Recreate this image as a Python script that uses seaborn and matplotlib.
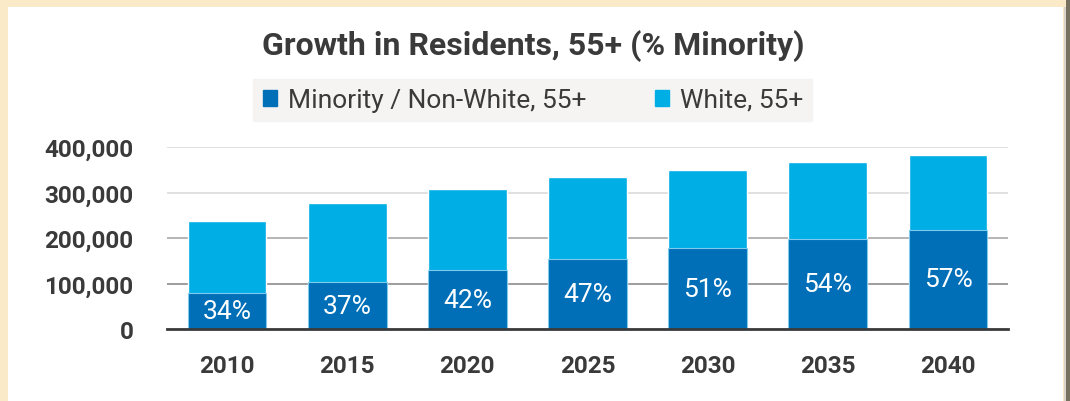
import numpy as np
import pandas as pd
import matplotlib.pyplot as plt
import matplotlib.patches as mpatches
from matplotlib.ticker import FuncFormatter
import seaborn as sns

# Values
years = ["2010", "2015", "2020", "2025", "2030", "2035", "2040"]
total_55 = [237000, 278000, 308000, 333000, 350000, 366000, 382000]
minority_55 = [80000, 103000, 129000, 154000, 178000, 198000, 218000]
pct_minority = [34, 37, 42, 47, 51, 54, 57]

df = pd.DataFrame({"year": years, "total": total_55, "minority": minority_55})

light_blue = "#00AEE6"
dark_blue = "#006FB8"
text_col = "#3A3A3A"
cream = "#FAEAC8"

sns.set_theme(style="white")
plt.rcParams["font.family"] = ["Roboto", "DejaVu Sans"]

fig = plt.figure(figsize=(10.7, 4.02), dpi=100)
fig.patch.set_facecolor(cream)

# white card with a dark edge on the right, like the screenshot frame
fig.patches.append(mpatches.Rectangle((8 / 1070, 0), 1055 / 1070, 1 - 8 / 402,
                                      transform=fig.transFigure, facecolor="white",
                                      edgecolor="none", zorder=-10))
fig.patches.append(mpatches.Rectangle((1064 / 1070, 0), 2 / 1070, 1 - 8 / 402,
                                      transform=fig.transFigure, facecolor="#D8D4CC",
                                      edgecolor="none", zorder=-10))
fig.patches.append(mpatches.Rectangle((1066 / 1070, 0), 4 / 1070, 1,
                                      transform=fig.transFigure, facecolor="#77715F",
                                      edgecolor="none", zorder=-10))

ax = fig.add_axes([167 / 1070, 1 - 330 / 402, 841 / 1070, 182 / 402])
ax.set_facecolor("none")

sns.barplot(data=df, x="year", y="total", color=light_blue, width=0.655,
            saturation=1, ax=ax, zorder=3)
sns.barplot(data=df, x="year", y="minority", color=dark_blue, width=0.655,
            saturation=1, ax=ax, zorder=4, edgecolor="#7FCBEE", linewidth=0.8)

for i, (m, p) in enumerate(zip(minority_55, pct_minority)):
    ax.text(i, m / 2, f"{p}%", ha="center", va="center", color="white",
            fontsize=19, zorder=5)

ax.set_ylim(0, 400000)
ax.set_xlim(-0.5, len(years) - 0.5)
ax.set_yticks([0, 100000, 200000, 300000, 400000])
ax.yaxis.set_major_formatter(FuncFormatter(lambda v, _: f"{int(v):,}"))
ax.set_xlabel("")
ax.set_ylabel("")

ax.grid(axis="y", color="#DADADA", linewidth=1.2, zorder=0)
for gl, c in zip(ax.get_ygridlines(), ["#DADADA", "#8C8C8C", "#A8A8A8", "#DADADA", "#DADADA"]):
    gl.set_color(c)

for s in ["left", "right", "top"]:
    ax.spines[s].set_visible(False)
ax.spines["bottom"].set_color("#3A3A3A")
ax.spines["bottom"].set_linewidth(2)
ax.spines["bottom"].set_zorder(6)

ax.tick_params(axis="y", length=0, pad=24, labelsize=17.5, labelcolor=text_col)
ax.tick_params(axis="x", length=0, pad=18, labelsize=17.5, labelcolor=text_col)
for lab in ax.get_yticklabels() + ax.get_xticklabels():
    lab.set_fontweight("bold")

fig.text(0.498, 0.885, "Growth in Residents, 55+ (% Minority)", ha="center", va="center",
         fontsize=23, fontweight="bold", color=text_col)

handles = [mpatches.Patch(color=dark_blue, label="Minority / Non-White, 55+"),
           mpatches.Patch(color=light_blue, label="White, 55+")]
leg = fig.legend(handles=handles, loc="center", bbox_to_anchor=(0.498, 0.749), ncol=2,
                 frameon=True, fancybox=False, facecolor="#F4F2F0", edgecolor="#F4F2F0",
                 fontsize=19, handlelength=0.55, handleheight=0.55, handletextpad=0.4,
                 columnspacing=2.6, borderpad=0.35, borderaxespad=0)
leg.get_frame().set_boxstyle("square", pad=0.0)
for t in leg.get_texts():
    t.set_color(text_col)

fig.savefig("out.png", dpi=100, facecolor=fig.get_facecolor())
